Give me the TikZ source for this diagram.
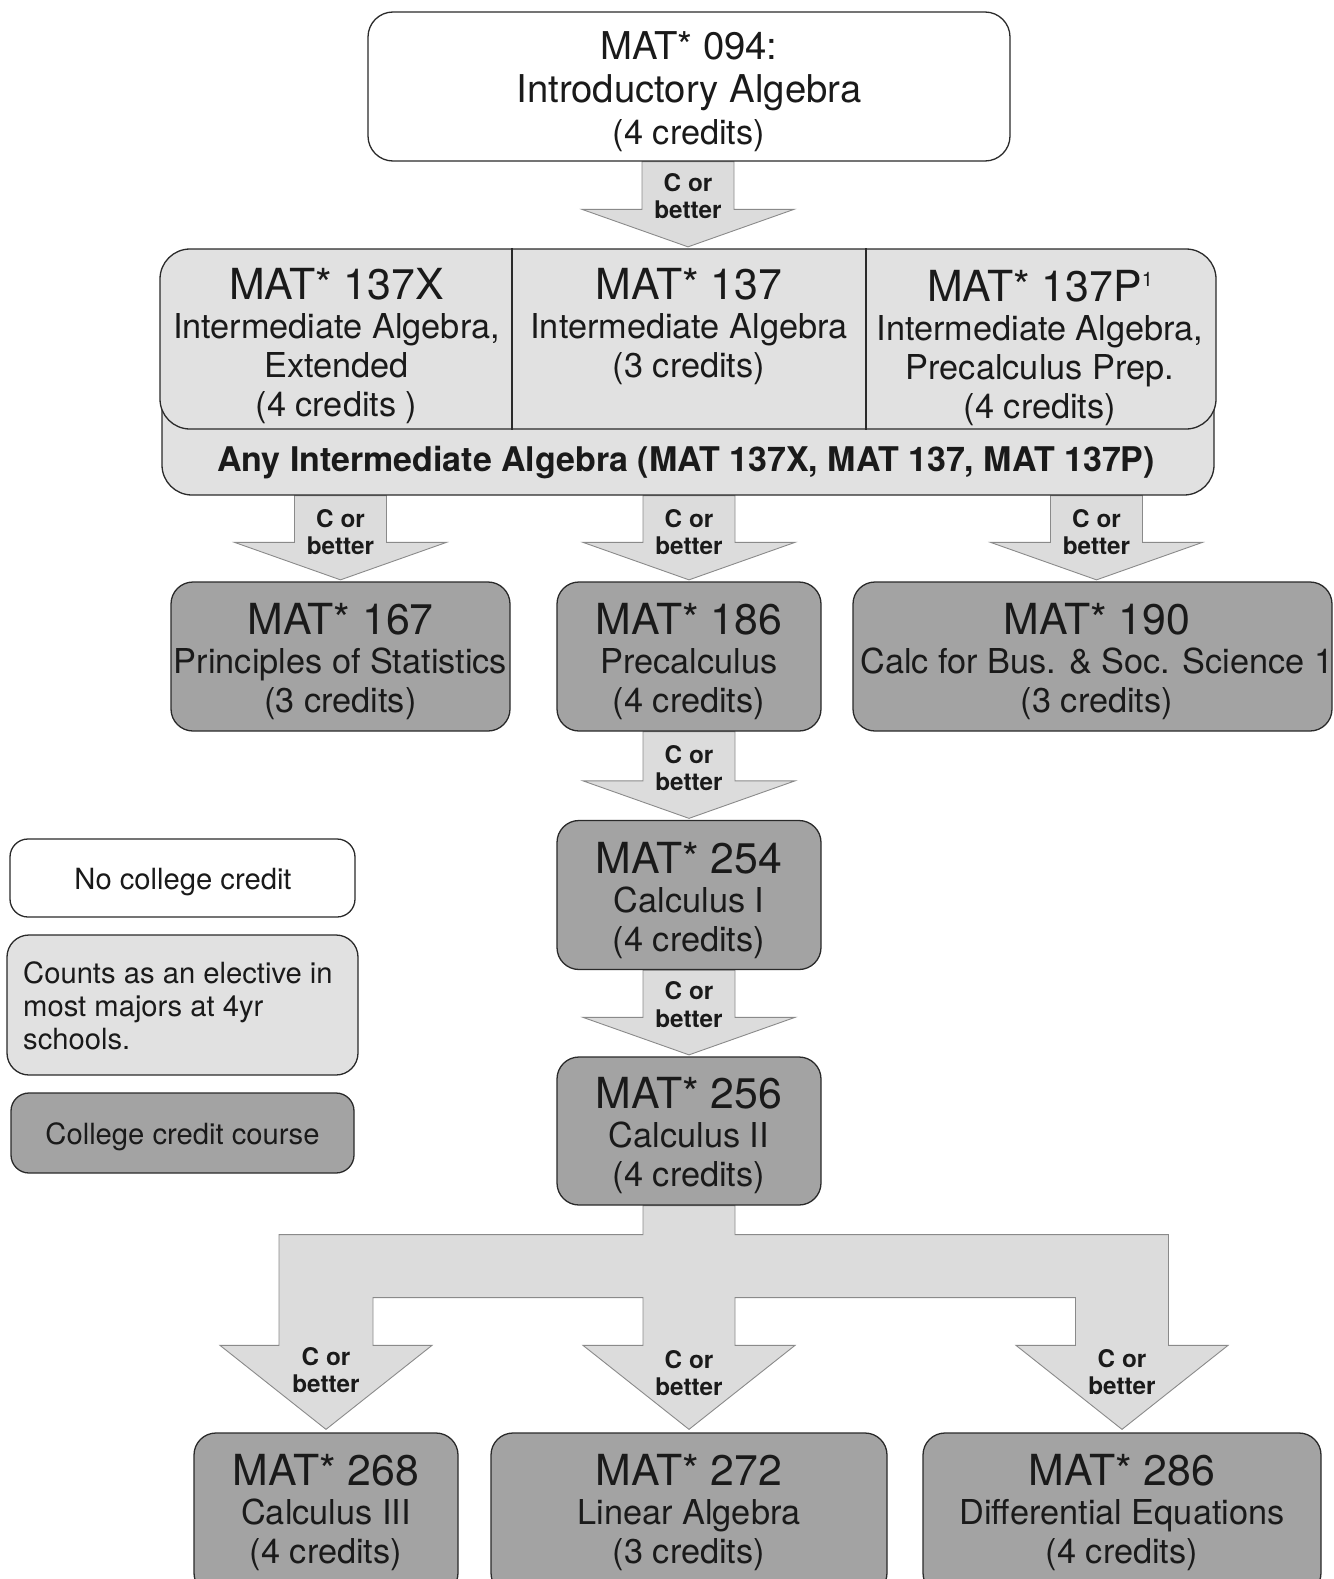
\documentclass[tikz,border=0pt]{standalone}
\usepackage{fontspec}
\setmainfont{TeX Gyre Heros}
\usetikzlibrary{calc,backgrounds}
\definecolor{lg}{HTML}{E1E1E1}
\definecolor{ag}{HTML}{DCDCDC}
\definecolor{dg}{HTML}{A3A3A3}
\definecolor{ol}{HTML}{2A2A2A}
\definecolor{aol}{HTML}{8A8A8A}
\definecolor{tx}{HTML}{1A1A1A}
\newcommand\titf{\fontsize{42.8}{44}\selectfont}
\newcommand\subf{\fontsize{34.3}{39}\selectfont}
\newcommand\topf{\fontsize{38.3}{42.5}\selectfont}
\newcommand\cbf{\bfseries\fontsize{24.3}{27.5}\selectfont}
\newcommand\anyf{\bfseries\fontsize{34}{38}\selectfont}
\newcommand\legf{\fontsize{29.2}{33.2}\selectfont}
\newcommand\barrow[5]{%
  \coordinate (tp#4) at ($(#2.north)+(#3,0)$);
  \draw[arrowst] ($(#1.south -| tp#4)+(-46,0)$) -- ($(tp#4)+(-46,-39)$) -- ($(tp#4)+(-106,-39)$) -- ($(tp#4)+(0,-1.5)$) -- ($(tp#4)+(106,-39)$) -- ($(tp#4)+(46,-39)$) -- ($(#1.south -| tp#4)+(46,0)$) -- cycle;
  \node[clab] (lab#4) at ($(tp#4)+(0,#5)$) {C or\\better};}
\begin{document}
\begin{tikzpicture}[x=1pt,y=-1pt,
  box/.style={draw=ol, line width=1.3pt, rounded corners=#1, inner sep=0pt, text=tx},
  box/.default=22,
  txt/.style={inner sep=0pt, align=center, font=\subf, text=tx},
  arrowst/.style={fill=ag, draw=aol, line width=0.9pt, line join=miter},
  clab/.style={inner sep=0pt, align=center, font=\cbf, text=tx}]
\useasboundingbox (0,0) rectangle (1333,1579);
% top box
\node[box=25, fill=white, minimum width=642, minimum height=149] (c094) at (689,86.5) {};
\node[txt, font=\topf] (t094) at (689,91.8) {MAT* 094:\\Introductory Algebra\\{\subf (4 credits)}};
% intermediate algebra group
\node[box=30, fill=lg, minimum width=1052, minimum height=165] (gany) at (688,412.5) {};
\node[inner sep=0pt, font=\anyf, text=tx] (tany) at (686,463) {Any Intermediate Algebra (MAT 137X, MAT 137, MAT 137P)};
\node[box=30, fill=lg, minimum width=1056, minimum height=180] (g137) at (688,339) {};
\coordinate (d1) at (512,0);
\coordinate (d2) at (866,0);
\draw[draw=ol, line width=1.3pt] (g137.north -| d1) -- (g137.south -| d1);
\draw[draw=ol, line width=1.3pt] (g137.north -| d2) -- (g137.south -| d2);
\node[txt] (t137x) at (336.5,346) {{\titf MAT* 137X}\\Intermediate Algebra,\\Extended\\(4 credits )};
\node[txt] (t137) at (689,326.5) {{\titf MAT* 137}\\Intermediate Algebra\\(3 credits)};
\node[txt] (t137p) at (1040,348) {{\titf MAT* 137P\raisebox{15pt}{\fontsize{20}{20}\selectfont 1}}\\Intermediate Algebra,\\Precalculus Prep.\\(4 credits)};
% row 3
\node[box, fill=dg, minimum width=339, minimum height=149] (c167) at (340.5,656.5) {};
\node[txt] (t167) at (340.5,661.6) {{\titf MAT* 167}\\Principles of Statistics\\(3 credits)};
\node[box, fill=dg, minimum width=264, minimum height=149] (c186) at (689,656.5) {};
\node[txt] (t186) at (689,661.6) {{\titf MAT* 186}\\Precalculus\\(4 credits)};
\node[box, fill=dg, minimum width=479, minimum height=149] (c190) at (1092.5,656.5) {};
\node[txt] (t190) at (1097,661.6) {{\titf MAT* 190}\\Calc for Bus. \& Soc. Science 1\\(3 credits)};
% calculus chain
\node[box, fill=dg, minimum width=264, minimum height=149] (c254) at (689,895) {};
\node[txt] (t254) at (689,900.6) {{\titf MAT* 254}\\Calculus I\\(4 credits)};
\node[box, fill=dg, minimum width=264, minimum height=148] (c256) at (689,1131) {};
\node[txt] (t256) at (689,1136) {{\titf MAT* 256}\\Calculus II\\(4 credits)};
% bottom row
\node[box, fill=dg, minimum width=264, minimum height=162] (c268) at (326,1514) {};
\node[txt] (t268) at (326,1512.6) {{\titf MAT* 268}\\Calculus III\\(4 credits)};
\node[box, fill=dg, minimum width=396, minimum height=162] (c272) at (689,1514) {};
\node[txt] (t272) at (689,1512.6) {{\titf MAT* 272}\\Linear Algebra\\(3 credits)};
\node[box, fill=dg, minimum width=398, minimum height=162] (c286) at (1122,1514) {};
\node[txt] (t286) at (1122,1512.6) {{\titf MAT* 286}\\Differential Equations\\(4 credits)};
% legend
\node[box=18, fill=white, minimum width=345, minimum height=78] (leg1) at (182.5,878) {};
\node[inner sep=0pt, font=\legf, text=tx] (tleg1) at (183,882) {No college credit};
\node[box=22, fill=lg, minimum width=351, minimum height=140] (leg2) at (182.5,1005) {};
\node[inner sep=0pt, align=left, anchor=west, font=\legf, text=tx] (tleg2) at (23,1005.8) {Counts as an elective in\\most majors at 4yr\\schools.};
\node[box=18, fill=dg, minimum width=343, minimum height=80] (leg3) at (182.5,1133) {};
\node[inner sep=0pt, font=\legf, text=tx] (tleg3) at (182.5,1137) {College credit course};
% arrows
\begin{scope}[on background layer]
\barrow{c094}{g137}{0}{a}{-52}
\barrow{gany}{c167}{0}{b}{-49}
\barrow{gany}{c186}{0}{c}{-49}
\barrow{gany}{c190}{4}{d}{-49}
\barrow{c186}{c254}{0}{e}{-52}
\barrow{c254}{c256}{0}{f}{-52}
\coordinate (bt) at ($(c256.south)+(0,29)$);
\coordinate (bb) at ($(c256.south)+(0,92)$);
\coordinate (Ll) at ($(c268.north)+(-47,-87)$);
\coordinate (Lr) at ($(c268.north)+(47,-87)$);
\coordinate (Ml) at ($(c272.north)+(-46,-87)$);
\coordinate (Mr) at ($(c272.north)+(46,-87)$);
\coordinate (Rl) at ($(c286.north)+(-46.5,-87)$);
\coordinate (Rr) at ($(c286.north)+(46.5,-87)$);
\draw[arrowst] ($(c256.south)+(-46,0)$) -- ($(bt)+(-46,0)$) -- (bt -| Ll) -- (Ll) -- ($(Ll)+(-59,0)$) -- ($(c268.north)+(0,-3)$) -- ($(Lr)+(59,0)$) -- (Lr) -- (bb -| Lr) -- (bb -| Ml) -- (Ml) -- ($(Ml)+(-60,0)$) -- ($(c272.north)+(0,-3)$) -- ($(Mr)+(60,0)$) -- (Mr) -- (bb -| Mr) -- (bb -| Rl) -- (Rl) -- ($(Rl)+(-59.5,0)$) -- ($(c286.north)+(0,-3)$) -- ($(Rr)+(59.5,0)$) -- (Rr) -- (bt -| Rr) -- ($(bt)+(46,0)$) -- ($(c256.south)+(46,0)$) -- cycle;
\node[clab] (lb268) at ($(c268.north)+(0,-62.5)$) {C or\\better};
\node[clab] (lb272) at ($(c272.north)+(0,-59.5)$) {C or\\better};
\node[clab] (lb286) at ($(c286.north)+(0,-60.5)$) {C or\\better};
\end{scope}
\end{tikzpicture}
\end{document}
